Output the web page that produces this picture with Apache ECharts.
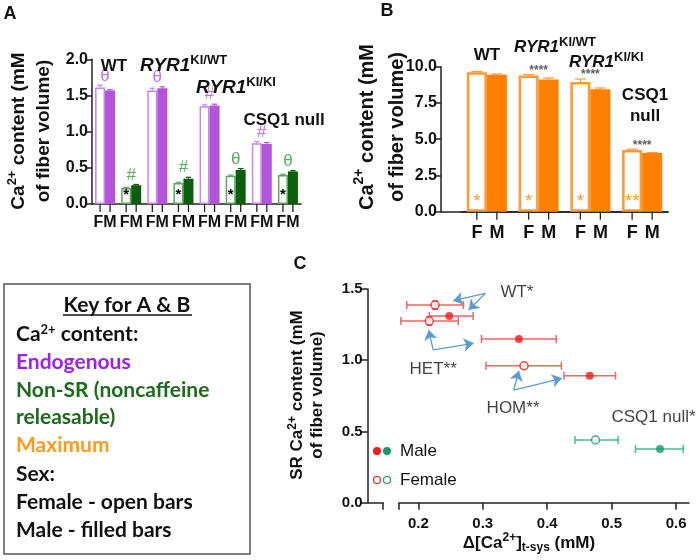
<!DOCTYPE html>
<html>
<head>
<meta charset="utf-8">
<script src="https://cdn.jsdelivr.net/npm/echarts@6/dist/echarts.min.js"></script>
<style>
  html, body { margin: 0; padding: 0; background: #fff; }
  #main { width: 700px; height: 560px; }
</style>
</head>
<body>
<div id="main"></div>
<script>
// ---------- panel A : endogenous / non-SR Ca content (mM) ----------
const pairsA = ['WT', 'WT', 'KI/WT', 'KI/WT', 'KI/KI', 'KI/KI', 'CSQ1 null', 'CSQ1 null'];
const kindA = ['endo', 'nonSR', 'endo', 'nonSR', 'endo', 'nonSR', 'endo', 'nonSR'];
const femaleA = [1.61, 0.22, 1.57, 0.29, 1.35, 0.39, 0.84, 0.40];
const maleA = [1.57, 0.26, 1.60, 0.35, 1.36, 0.47, 0.83, 0.45];
const femaleErrA = [0.03, 0.01, 0.03, 0.01, 0.02, 0.01, 0.02, 0.01];
const maleErrA = [0.01, 0.01, 0.02, 0.02, 0.02, 0.02, 0.02, 0.01];
const markA = ['θ', '#', 'θ', '#', '#', 'θ', '#', 'θ'];
const starA = ['', '*', '', '*', '', '*', '', '*'];

// ---------- panel B : maximum Ca content (mM) ----------
const groupsB = ['WT', 'KI/WT', 'KI/KI', 'CSQ1 null'];
const femaleB = [9.62, 9.40, 8.95, 4.25];
const maleB = [9.45, 9.12, 8.45, 4.05];
const femaleErrB = [0.05, 0.06, 0.2, 0.06];
const maleErrB = [0.05, 0.1, 0.08, 0.03];
const starsB = ['', '****', '****', '****'];
const insideB = ['*', '*', '*', '**'];

// ---------- panel C : SR Ca content vs delta Ca t-sys ----------
const genotypesC = ['WT', 'HET', 'HOM', 'CSQ1 null'];
const femaleX = [0.226, 0.217, 0.364, 0.475];
const femaleY = [1.387, 1.275, 0.961, 0.440];
const femaleXLo = [0.182, 0.173, 0.305, 0.443];
const femaleXHi = [0.270, 0.262, 0.422, 0.510];
const femaleYErr = [0.03, 0.03, 0, 0];
const maleX = [0.248, 0.356, 0.466, 0.575];
const maleY = [1.310, 1.149, 0.891, 0.377];
const maleXLo = [0.217, 0.298, 0.426, 0.537];
const maleXHi = [0.285, 0.414, 0.506, 0.611];
const maleYErr = [0, 0, 0, 0];
const ticksCx = [0.17, 0.2, 0.3, 0.4, 0.5, 0.6];
const labelsCx = [0.2, 0.3, 0.4, 0.5, 0.6];
const notesC = [['WT*', 0.353, 1.474], ['HET**', 0.223, 0.938], ['HOM**', 0.347, 0.664], ['CSQ1 null*', 0.565, 0.601]];
const arrowsC = [
  [[0.304, 1.470], [0.254, 1.418]],
  [[0.304, 1.470], [0.278, 1.352]],
  [[0.223, 1.072], [0.216, 1.212]],
  [[0.223, 1.072], [0.286, 1.119]],
  [[0.348, 0.791], [0.356, 0.926]],
  [[0.348, 0.791], [0.423, 0.873]]
];

const FONT = 'Liberation Sans';
const colA = {
  endo: { fill: '#b455d9', line: '#c884e8', mark: '#b455d9' },
  nonSR: { fill: '#0c5e0c', line: '#5fa65f', mark: '#2e9a2e' }
};
const ORANGE = '#ff8000', ORANGE_LINE = '#ff9933';
const RED = '#ee1c1c', RED_ERR = '#f26363';
const GREEN = '#149a66', GREEN_ERR = '#4cbb94';
const colorC = i => genotypesC[i] === 'CSQ1 null' ? GREEN : RED;
const errColorC = i => genotypesC[i] === 'CSQ1 null' ? GREEN_ERR : RED_ERR;

const axisLine = { show: true, lineStyle: { color: '#222', width: 1.5 } };
const boldLabel = { fontFamily: FONT, fontWeight: 'bold', color: '#111' };

/**
 * vertical error bar on one bar of a pair + tick mark under the bar
 */
function barErr(sign, half, colorOf, tickLen) {
  return function (params, api) {
    const i = api.value(0);
    const base = api.coord([i, 0]);
    const top = api.coord([i, api.value(1)]);
    const hi = api.coord([i, api.value(1) + api.value(2)]);
    const x = base[0] + sign * half;
    const cap = half * 0.55;
    const color = colorOf(params.dataIndex);
    return {
      type: 'group',
      children: [
        { type: 'line', shape: { x1: x, y1: top[1], x2: x, y2: hi[1] }, style: { stroke: color, lineWidth: 1.2 } },
        { type: 'line', shape: { x1: x - cap, y1: hi[1], x2: x + cap, y2: hi[1] }, style: { stroke: color, lineWidth: 1.2 } },
        { type: 'line', shape: { x1: x, y1: base[1], x2: x, y2: base[1] + tickLen }, style: { stroke: '#222', lineWidth: 1.3 } }
      ]
    };
  };
}

/**
 * horizontal (and optional vertical) error bars for panel C
 */
function xyErr(params, api) {
  const c = api.coord([api.value(0), api.value(1)]);
  const lo = api.coord([api.value(2), api.value(1)]);
  const hi = api.coord([api.value(3), api.value(1)]);
  const color = errColorC(params.dataIndex);
  const st = { stroke: color, lineWidth: 1.5 };
  const kids = [
    { type: 'line', shape: { x1: lo[0], y1: c[1], x2: hi[0], y2: c[1] }, style: st },
    { type: 'line', shape: { x1: lo[0], y1: c[1] - 4, x2: lo[0], y2: c[1] + 4 }, style: st },
    { type: 'line', shape: { x1: hi[0], y1: c[1] - 4, x2: hi[0], y2: c[1] + 4 }, style: st }
  ];
  const ye = api.value(4);
  if (ye > 0) {
    const up = api.coord([api.value(0), api.value(1) + ye]);
    const dn = api.coord([api.value(0), api.value(1) - ye]);
    kids.push({ type: 'line', shape: { x1: c[0], y1: up[1], x2: c[0], y2: dn[1] }, style: st });
    kids.push({ type: 'line', shape: { x1: c[0] - 3, y1: up[1], x2: c[0] + 3, y2: up[1] }, style: st });
    kids.push({ type: 'line', shape: { x1: c[0] - 3, y1: dn[1], x2: c[0] + 3, y2: dn[1] }, style: st });
  }
  return { type: 'group', children: kids };
}

function txt(x, y, text, o) {
  o = o || {};
  return {
    type: 'text', x: x, y: y, rotation: o.rotation || 0, z: 10,
    style: {
      text: text,
      fill: o.color || '#111',
      fontFamily: o.family || FONT,
      fontSize: o.size || 16,
      fontWeight: o.weight || 'bold',
      fontStyle: o.style || 'normal',
      lineHeight: o.lineHeight,
      align: o.align || 'center', textAlign: o.align || 'center',
      verticalAlign: 'middle', textVerticalAlign: 'middle',
      rich: o.rich
    }
  };
}

const supRich = (size, it) => ({
  it: { fontFamily: FONT, fontWeight: 'bold', fontStyle: 'italic', fontSize: it, lineHeight: it + 6 },
  sup: { fontFamily: FONT, fontWeight: 'bold', fontSize: size, verticalAlign: 'top', lineHeight: size }
});

// ---- key box text ----
const KEY_FONT = 'Lato';
const keyLines = [
  ['Ca{sup|2+} content:', '#111', 334],
  ['Endogenous', '#a020f0', 362],
  ['Non-SR (noncaffeine', '#1b6b1b', 390],
  ['releasable)', '#1b6b1b', 417],
  ['Maximum', '#ff9a1a', 445],
  ['Sex:', '#111', 474],
  ['Female - open bars', '#111', 502],
  ['Male - filled bars', '#111', 530]
];

const graphic = [
  txt(10, 14, 'A', { size: 18 }),
  txt(387, 11, 'B', { size: 18 }),
  txt(300, 264, 'C', { size: 18 }),
  // y titles
  txt(31, 131, 'Ca{sup|2+} content (mM\nof fiber volume)', {
    size: 19, lineHeight: 25, rotation: Math.PI / 2,
    rich: { sup: { fontFamily: FONT, fontWeight: 'bold', fontSize: 13, verticalAlign: 'top', lineHeight: 13 } }
  }),
  txt(382, 127, 'Ca{sup|2+} content (mM\nof fiber volume)', {
    size: 20, lineHeight: 30, rotation: Math.PI / 2,
    rich: { sup: { fontFamily: FONT, fontWeight: 'bold', fontSize: 14, verticalAlign: 'top', lineHeight: 14 } }
  }),
  txt(307, 395, 'SR Ca{sup|2+} content (mM\nof fiber volume)', {
    size: 17, lineHeight: 20, rotation: Math.PI / 2,
    rich: { sup: { fontFamily: FONT, fontWeight: 'bold', fontSize: 12, verticalAlign: 'top', lineHeight: 12 } }
  }),
  txt(529, 543, 'Δ[Ca{sup|2+}]{sub|t-sys} (mM)', {
    size: 17, lineHeight: 22,
    rich: {
      sup: { fontFamily: FONT, fontWeight: 'bold', fontSize: 12, verticalAlign: 'top', lineHeight: 12 },
      sub: { fontFamily: FONT, fontWeight: 'bold', fontSize: 12, verticalAlign: 'bottom', lineHeight: 12 }
    }
  }),
  // panel A group names
  txt(114, 66, 'WT', { size: 17 }),
  txt(140, 66, '{it|RYR1}{sup|KI/WT}', { align: 'left', size: 19, rich: supRich(13, 19) }),
  txt(196, 88, '{it|RYR1}{sup|KI/KI}', { align: 'left', size: 19, rich: supRich(13, 19) }),
  txt(284, 120, 'CSQ1 null', { size: 17 }),
  // panel B group names
  txt(487, 55, 'WT', { size: 17 }),
  txt(514, 47, '{it|RYR1}{sup|KI/WT}', { align: 'left', size: 17, rich: supRich(13, 17) }),
  txt(569, 62, '{it|RYR1}{sup|KI/KI}', { align: 'left', size: 17, rich: supRich(13, 17) }),
  txt(645, 106, 'CSQ1\nnull', { size: 17, lineHeight: 21 }),
  // key box
  { type: 'rect', shape: { x: 4, y: 284, width: 246, height: 270 }, style: { fill: 'none', stroke: '#555', lineWidth: 1.5 } },
  txt(127, 305, 'Key for A & B', { family: KEY_FONT, size: 21 }),
  { type: 'line', shape: { x1: 63, y1: 315, x2: 192, y2: 315 }, style: { stroke: '#111', lineWidth: 1.5 } },
  // panel C legend
  { type: 'circle', shape: { cx: 377, cy: 451, r: 4 }, style: { fill: RED } },
  { type: 'circle', shape: { cx: 387, cy: 451, r: 4 }, style: { fill: GREEN } },
  { type: 'circle', shape: { cx: 377, cy: 480, r: 3.5 }, style: { fill: '#fff', stroke: RED, lineWidth: 1.2 } },
  { type: 'circle', shape: { cx: 387, cy: 480, r: 3.5 }, style: { fill: '#fff', stroke: GREEN, lineWidth: 1.2 } },
  txt(400, 451, 'Male', { align: 'left', size: 17, weight: 'normal', color: '#111' }),
  txt(400, 480, 'Female', { align: 'left', size: 17, weight: 'normal', color: '#111' })
];
keyLines.forEach(k => {
  graphic.push(txt(16, k[2], k[0], {
    align: 'left', family: KEY_FONT, size: 21, color: k[1],
    rich: { sup: { fontFamily: KEY_FONT, fontWeight: 'bold', fontSize: 13, verticalAlign: 'top', lineHeight: 13, fill: k[1] } }
  }));
});

const option = {
  animation: false,
  backgroundColor: '#fff',
  textStyle: { fontFamily: FONT },
  grid: [
    { left: 92, top: 59.3, width: 209, height: 144.7 },     // A
    { left: 461, top: 66.7, width: 207, height: 145 },      // B
    { left: 441, top: 66.7, width: 227, height: 145 },      // B axis line from y axis
    { left: 399, top: 289, width: 290, height: 213.7 },     // C main
    { left: 367.7, top: 289, width: 15.3, height: 213.7 }   // C broken-axis stub
  ],
  xAxis: [
    {
      type: 'category', gridIndex: 0, data: pairsA.map((p, i) => p + ' ' + kindA[i]),
      axisLine: axisLine, axisTick: { show: false },
      axisLabel: Object.assign({ interval: 0, fontSize: 16, margin: 11, formatter: () => 'FM' }, boldLabel)
    },
    {
      type: 'category', gridIndex: 1, data: groupsB,
      axisLine: axisLine, axisTick: { show: false },
      axisLabel: Object.assign({
        interval: 0, fontSize: 18, margin: 12, formatter: () => '{f|F}{m|M}',
        rich: { f: { width: 20, align: 'center', fontSize: 18, fontWeight: 'bold', fontFamily: FONT },
                m: { width: 20, align: 'center', fontSize: 18, fontWeight: 'bold', fontFamily: FONT } }
      }, boldLabel)
    },
    {
      type: 'value', gridIndex: 2, min: 0, max: 1, axisLine: axisLine,
      axisTick: { show: false }, axisLabel: { show: false }, splitLine: { show: false }
    },
    {
      type: 'value', gridIndex: 3, min: 0.17, max: 0.62, axisLine: axisLine,
      axisTick: { show: true, length: 7, customValues: ticksCx, lineStyle: { color: '#222', width: 1.5 } },
      axisLabel: Object.assign({ fontSize: 15, margin: 14, customValues: labelsCx, formatter: v => v.toFixed(1) }, boldLabel),
      splitLine: { show: false }
    },
    {
      type: 'value', gridIndex: 4, min: 0, max: 1, axisLine: axisLine,
      axisTick: { show: true, length: 7, customValues: [1], lineStyle: { color: '#222', width: 1.5 } },
      axisLabel: { show: false }, splitLine: { show: false }
    }
  ],
  yAxis: [
    {
      type: 'value', gridIndex: 0, min: 0, max: 2, interval: 0.5, axisLine: axisLine,
      axisTick: { show: true, length: 5, lineStyle: { color: '#222', width: 1.5 } },
      axisLabel: Object.assign({ fontSize: 16, margin: 4, formatter: v => v.toFixed(1) }, boldLabel),
      splitLine: { show: false }
    },
    {
      type: 'value', gridIndex: 1, min: 0, max: 10, interval: 2.5, offset: 20, axisLine: axisLine,
      axisTick: { show: true, length: 5, lineStyle: { color: '#222', width: 1.5 } },
      axisLabel: Object.assign({ fontSize: 16, margin: 4, formatter: v => v.toFixed(1) }, boldLabel),
      splitLine: { show: false }
    },
    { type: 'value', gridIndex: 2, min: 0, max: 10, show: false },
    {
      type: 'value', gridIndex: 3, min: 0, max: 1.5, interval: 0.5, offset: 31.3, axisLine: axisLine,
      axisTick: { show: true, length: 7, lineStyle: { color: '#222', width: 1.5 } },
      axisLabel: Object.assign({ fontSize: 15, margin: 5, formatter: v => v.toFixed(1) }, boldLabel),
      splitLine: { show: false }
    },
    { type: 'value', gridIndex: 4, min: 0, max: 1.5, show: false }
  ],
  series: [
    // ----- A bars
    {
      type: 'bar', xAxisIndex: 0, yAxisIndex: 0, barWidth: 10, barGap: '0%', z: 2,
      label: { show: false, position: 'insideBottom', distance: 2, fontSize: 15, fontWeight: 'bold', color: '#000', fontFamily: FONT },
      data: femaleA.map((v, i) => ({
        value: v,
        itemStyle: { color: '#fff', borderColor: colA[kindA[i]].line, borderWidth: 1.5 },
        label: { show: starA[i] !== '', formatter: starA[i] }
      }))
    },
    {
      type: 'bar', xAxisIndex: 0, yAxisIndex: 0, barWidth: 10, barGap: '0%', z: 2,
      data: maleA.map((v, i) => ({ value: v, itemStyle: { color: colA[kindA[i]].fill } }))
    },
    {
      type: 'custom', xAxisIndex: 0, yAxisIndex: 0, z: 3, clip: false, silent: true,
      renderItem: barErr(-1, 5, i => colA[kindA[i]].line, 8),
      data: femaleA.map((v, i) => [i, v, femaleErrA[i]])
    },
    {
      type: 'custom', xAxisIndex: 0, yAxisIndex: 0, z: 3, clip: false, silent: true,
      renderItem: barErr(1, 5, i => colA[kindA[i]].fill, 8),
      data: maleA.map((v, i) => [i, v, maleErrA[i]])
    },
    {
      type: 'scatter', xAxisIndex: 0, yAxisIndex: 0, symbolSize: 0, z: 4, silent: true,
      label: { show: true, position: 'top', distance: 1, fontSize: 17, fontFamily: FONT },
      data: markA.map((m, i) => ({
        value: [i, Math.max(femaleA[i] + femaleErrA[i], maleA[i] + maleErrA[i])],
        label: { formatter: m, color: colA[kindA[i]].mark }
      }))
    },
    // ----- B bars
    {
      type: 'bar', xAxisIndex: 1, yAxisIndex: 1, barWidth: 20, barGap: '0%', z: 2,
      label: { show: true, position: 'insideBottom', distance: 0, fontSize: 19, color: '#ff9a33', fontFamily: FONT },
      data: femaleB.map((v, i) => ({
        value: v,
        itemStyle: { color: '#fff', borderColor: ORANGE_LINE, borderWidth: 2.5 },
        label: { formatter: insideB[i] }
      }))
    },
    {
      type: 'bar', xAxisIndex: 1, yAxisIndex: 1, barWidth: 20, barGap: '0%', z: 2,
      itemStyle: { color: ORANGE },
      data: maleB
    },
    {
      type: 'custom', xAxisIndex: 1, yAxisIndex: 1, z: 3, clip: false, silent: true,
      renderItem: barErr(-1, 10, () => ORANGE_LINE, 8),
      data: femaleB.map((v, i) => [i, v, femaleErrB[i]])
    },
    {
      type: 'custom', xAxisIndex: 1, yAxisIndex: 1, z: 3, clip: false, silent: true,
      renderItem: barErr(1, 10, () => '#ff9933', 8),
      data: maleB.map((v, i) => [i, v, maleErrB[i]])
    },
    {
      type: 'scatter', xAxisIndex: 1, yAxisIndex: 1, symbolSize: 0, z: 4, silent: true,
      label: { show: true, position: 'top', distance: -2, fontSize: 12, fontWeight: 'bold', color: '#333', fontFamily: FONT },
      data: starsB.map((s, i) => ({ value: [i, femaleB[i] + femaleErrB[i]], label: { formatter: s } }))
    },
    // ----- C
    {
      type: 'lines', coordinateSystem: 'cartesian2d', xAxisIndex: 3, yAxisIndex: 3, z: 2, silent: true,
      symbol: ['none', 'arrow'], symbolSize: 10,
      lineStyle: { color: '#5b9bd5', width: 1.3, opacity: 1 },
      data: arrowsC.map(a => ({ coords: a }))
    },
    {
      type: 'custom', xAxisIndex: 3, yAxisIndex: 3, z: 3, clip: false, silent: true,
      renderItem: xyErr,
      data: femaleX.map((x, i) => [x, femaleY[i], femaleXLo[i], femaleXHi[i], femaleYErr[i]])
    },
    {
      type: 'custom', xAxisIndex: 3, yAxisIndex: 3, z: 3, clip: false, silent: true,
      renderItem: xyErr,
      data: maleX.map((x, i) => [x, maleY[i], maleXLo[i], maleXHi[i], maleYErr[i]])
    },
    {
      type: 'scatter', xAxisIndex: 3, yAxisIndex: 3, z: 5, symbol: 'circle', symbolSize: 8,
      data: femaleX.map((x, i) => ({
        value: [x, femaleY[i]],
        itemStyle: { color: '#fff', borderColor: colorC(i), borderWidth: 1.5 }
      }))
    },
    {
      type: 'scatter', xAxisIndex: 3, yAxisIndex: 3, z: 5, symbol: 'circle', symbolSize: 8,
      data: maleX.map((x, i) => ({ value: [x, maleY[i]], itemStyle: { color: colorC(i) } }))
    },
    {
      type: 'scatter', xAxisIndex: 3, yAxisIndex: 3, symbolSize: 0, z: 6, silent: true,
      label: {
        show: true, position: 'inside', fontSize: 17, color: '#111', textBorderWidth: 0,
        fontFamily: FONT, formatter: p => notesC[p.dataIndex][0]
      },
      data: notesC.map(n => [n[1], n[2]])
    }
  ],
  graphic: graphic
};

const chart = echarts.init(document.getElementById('main'), null, { width: 700, height: 560 });
chart.setOption(option);
</script>
</body>
</html>
